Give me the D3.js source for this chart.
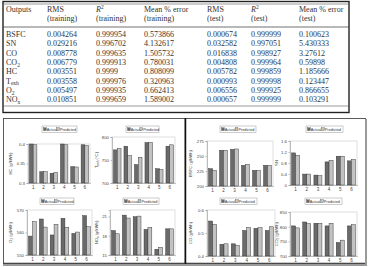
<!DOCTYPE html>
<html><head><meta charset="utf-8">
<script src="https://cdn.jsdelivr.net/npm/d3@7"></script>
<style>body{margin:0;background:#fff}svg{display:block}</style>
</head><body>
<script>
// ---------- Table data ----------
const outputNames = [["BSFC",""],["SN",""],["CO",""],["CO","2"],["HC",""],["T","exh"],["O","2"],["NO","x"]];
const rmsTrain = ["0.004264","0.029216","0.008778","0.006779","0.003551","0.003558","0.005497","0.010851"];
const r2Train  = ["0.999954","0.996702","0.999635","0.999913","0.9999","0.999976","0.999935","0.999659"];
const mpeTrain = ["0.573866","4.132617","1.505732","0.780031","0.808099","0.320963","0.662413","1.589002"];
const rmsTest  = ["0.000674","0.032582","0.016838","0.004808","0.005782","0.000993","0.006556","0.000657"];
const r2Test   = ["0.999999","0.997051","0.998927","0.999964","0.999859","0.999998","0.999925","0.999999"];
const mpeTest  = ["0.100623","5.430333","3.27612","0.59898","1.185666","0.123447","0.866655","0.103291"];

// ---------- Chart data ----------
const categories = ["1","2","3","4","5","6"];
const seriesNames = ["Actual","Predicted"];
const hcActual = [0.400,0.329,0.325,0.400,0.342,0.398];
const hcPred   = [0.398,0.329,0.327,0.398,0.341,0.396];
const hcTicks  = [0.3,0.35,0.4];
const texhActual = [772,780,740,788,731,780];
const texhPred   = [775,760,756,788,729,783];
const texhTicks  = [700,750,800];
const o2Actual = [558.4,566,558.9,566.3,559.6,567.5];
const o2Pred   = [564.8,562.4,563.6,562.3,560.2,562.6];
const o2Ticks  = [550,560,570];
const noxActual = [18.8,21.2,20.95,18.97,15.9,19.07];
const noxPred   = [18.3,20.75,21.05,19.3,16.2,19.07];
const noxTicks  = [15,18,21];
const bsfcActual = [228.9,259.4,261,234.4,226,234.4];
const bsfcPred   = [226,259.4,261.7,236,226,234.4];
const bsfcTicks  = [200,225,250,275];
const snActual = [1.167,0.397,0.36,0.84,1.047,0.878];
const snPred   = [1.083,0.397,0.337,0.9,1.047,0.926];
const snTicks  = [0,0.4,0.8,1.2,1.6];
const coActual = [0.552,0.451,0.453,0.511,0.52,0.511];
const coPred   = [0.537,0.453,0.447,0.524,0.523,0.527];
const coTicks  = [0.4,0.5,0.6];
const co2Actual = [802.6,816,811.6,802.6,746,802.6];
const co2Pred   = [795.9,810.5,811.6,811.6,754,807];
const co2Ticks  = [700,750,800,850];

const svg = d3.select("body").append("svg").attr("width",369).attr("height",267);

// ---------- Table ----------
const T = svg.append("g").attr("font-family","'Liberation Serif','Times New Roman',serif").attr("font-size",8).attr("fill","#333");
T.append("rect").attr("x",3).attr("y",1.5).attr("width",346).attr("height",111).attr("fill","none").attr("stroke","#222").attr("stroke-width",1.4);
T.append("line").attr("x1",3).attr("x2",349).attr("y1",4).attr("y2",4).attr("stroke","#555").attr("stroke-width",0.6);
T.append("line").attr("x1",3).attr("x2",349).attr("y1",27).attr("y2",27).attr("stroke","#333").attr("stroke-width",0.7);
T.append("line").attr("x1",3).attr("x2",349).attr("y1",106).attr("y2",106).attr("stroke","#555").attr("stroke-width",0.6);
const colX = [6,47,96,144,207,251,299];
const head1 = ["Outputs","RMS","R2","Mean % error","RMS","R2","Mean % error"];
const head2 = ["","(training)","(training)","(training)","(test)","(test)","(test)"];
head1.forEach((h,i)=>{
  const t = T.append("text").attr("x",colX[i]).attr("y",12);
  if(h==="R2"){ t.append("tspan").attr("font-style","italic").text("R"); t.append("tspan").attr("font-size",5.5).attr("dy",-3).text("2"); }
  else t.text(h);
  if(head2[i]) T.append("text").attr("x",colX[i]).attr("y",21).text(head2[i]);
});
const cols = [rmsTrain,r2Train,mpeTrain,rmsTest,r2Test,mpeTest];
outputNames.forEach((n,r)=>{
  const y = 37 + r*9.3;
  const t = T.append("text").attr("x",colX[0]).attr("y",y);
  t.append("tspan").text(n[0]);
  if(n[1]) t.append("tspan").attr("font-size",5.5).attr("dy",1.8).text(n[1]);
  cols.forEach((c,j)=>T.append("text").attr("x",colX[j+1]).attr("y",y).text(c[r]));
});

// ---------- Panels ----------
svg.append("rect").attr("x",3).attr("y",262.5).attr("width",364).attr("height",3.5).attr("fill","#9a9a9a");
svg.append("rect").attr("x",3.5).attr("y",118.5).attr("width",181.5).attr("height",145).attr("fill","none").attr("stroke","#333").attr("stroke-width",0.8);
svg.append("rect").attr("x",185.5).attr("y",118.5).attr("width",180).attr("height",145).attr("fill","none").attr("stroke","#333").attr("stroke-width",0.8);
svg.append("line").attr("x1",185.5).attr("x2",185.5).attr("y1",118).attr("y2",264).attr("stroke","#111").attr("stroke-width",1.5);
svg.append("rect").attr("x",365).attr("y",119).attr("width",2).attr("height",146).attr("fill","#9a9a9a");

// ---------- Charts ----------
function drawChart(L, actual, pred, ticks, domain, labelParts){
  const g = svg.append("g").attr("font-family","'Liberation Sans',Arial,sans-serif");
  const x = d3.scaleBand().domain(categories).range([L.l,L.r]).paddingInner(0.28).paddingOuter(0.14);
  const xs = d3.scaleBand().domain(seriesNames).range([0,x.bandwidth()]);
  const y = d3.scaleLinear().domain(domain).range([L.b,L.t]);
  g.append("rect").attr("x",L.l).attr("y",L.t).attr("width",L.r-L.l).attr("height",L.b-L.t).attr("fill","#fff").attr("stroke","#c8c8c8").attr("stroke-width",0.6);
  const ya = g.append("g").attr("transform",`translate(${L.l},0)`).call(d3.axisLeft(y).tickValues(ticks).tickSize(1.5).tickPadding(1.5).tickFormat(d=>String(d)));
  ya.selectAll("text").attr("font-size",4.3).attr("fill","#444");
  ya.selectAll("line,path").attr("stroke","#888").attr("stroke-width",0.5);
  const xa = g.append("g").attr("transform",`translate(0,${L.b})`).call(d3.axisBottom(x).tickSize(1.2).tickPadding(2));
  xa.selectAll("text").attr("font-size",4.5).attr("fill","#444");
  xa.selectAll("line,path").attr("stroke","#888").attr("stroke-width",0.5);
  const rows = categories.map((c,i)=>({c,Actual:actual[i],Predicted:pred[i]}));
  const colors = {Actual:"#6a6a6a",Predicted:"#c2c2c2"};
  rows.forEach(d=>{
    seriesNames.forEach(s=>{
      g.append("rect").attr("x",x(d.c)+xs(s)).attr("y",y(d[s])).attr("width",xs.bandwidth()).attr("height",L.b-y(d[s]))
        .attr("fill",colors[s]).attr("stroke","#333").attr("stroke-width",0.45);
    });
  });
  // y label
  const yl = g.append("text").attr("transform",`translate(${L.yl},${(L.t+L.b)/2}) rotate(-90)`).attr("text-anchor","middle").attr("font-size",4.2).attr("fill","#444");
  yl.append("tspan").text(labelParts[0]);
  if(labelParts[1]){ yl.append("tspan").attr("font-size",3).attr("dy",1).text(labelParts[1]); yl.append("tspan").attr("dy",-1).text(labelParts[2]); }
  // legend
  const lg = g.append("g").attr("transform",`translate(${L.lx},${L.ly})`);
  lg.append("rect").attr("width",L.lw).attr("height",6.5).attr("fill","#fff").attr("stroke","#999").attr("stroke-width",0.5);
  lg.append("rect").attr("x",1.5).attr("y",1.8).attr("width",2.8).attr("height",2.8).attr("fill",colors.Actual).attr("stroke","#333").attr("stroke-width",0.3);
  lg.append("text").attr("x",4.8).attr("y",4.6).attr("font-size",3.8).attr("fill","#333").text(seriesNames[0]);
  const px = L.lw*0.42;
  lg.append("rect").attr("x",px).attr("y",1.8).attr("width",2.8).attr("height",2.8).attr("fill",colors.Predicted).attr("stroke","#333").attr("stroke-width",0.3);
  lg.append("text").attr("x",px+3.3).attr("y",4.6).attr("font-size",3.8).attr("fill","#333").text(seriesNames[1]);
}

drawChart({l:28,r:90,t:144,b:183,yl:12,lx:42,ly:126,lw:35}, hcActual, hcPred, hcTicks, [0.3,0.4], ["HC (g/kWh)"]);
drawChart({l:112,r:175,t:137,b:183,yl:98,lx:126,ly:126,lw:33}, texhActual, texhPred, texhTicks, [700,800], ["T","exh"," (°C)"]);
drawChart({l:27,r:92,t:210,b:255,yl:12,lx:40,ly:198,lw:34}, o2Actual, o2Pred, o2Ticks, [550,570], ["O","2"," (g/kWh)"]);
drawChart({l:110,r:175,t:210,b:255,yl:98,lx:123,ly:198,lw:36}, noxActual, noxPred, noxTicks, [15,22], ["NO","x"," (g/kWh)"]);
drawChart({l:207,r:273,t:141,b:186,yl:192,lx:220,ly:126,lw:36}, bsfcActual, bsfcPred, bsfcTicks, [200,275], ["BSFC (g/kWh)"]);
drawChart({l:290,r:357,t:141,b:185,yl:278,lx:306,ly:126,lw:37}, snActual, snPred, snTicks, [0,1.6], ["SN"]);
drawChart({l:207,r:275,t:210,b:256,yl:192,lx:220,ly:198,lw:37}, coActual, coPred, coTicks, [0.4,0.6], ["CO (g/kWh)"]);
drawChart({l:290,r:357,t:212,b:256,yl:278,lx:305,ly:198,lw:37}, co2Actual, co2Pred, co2Ticks, [700,850], ["CO","2"," (g/kWh)"]);
</script>
</body></html>
